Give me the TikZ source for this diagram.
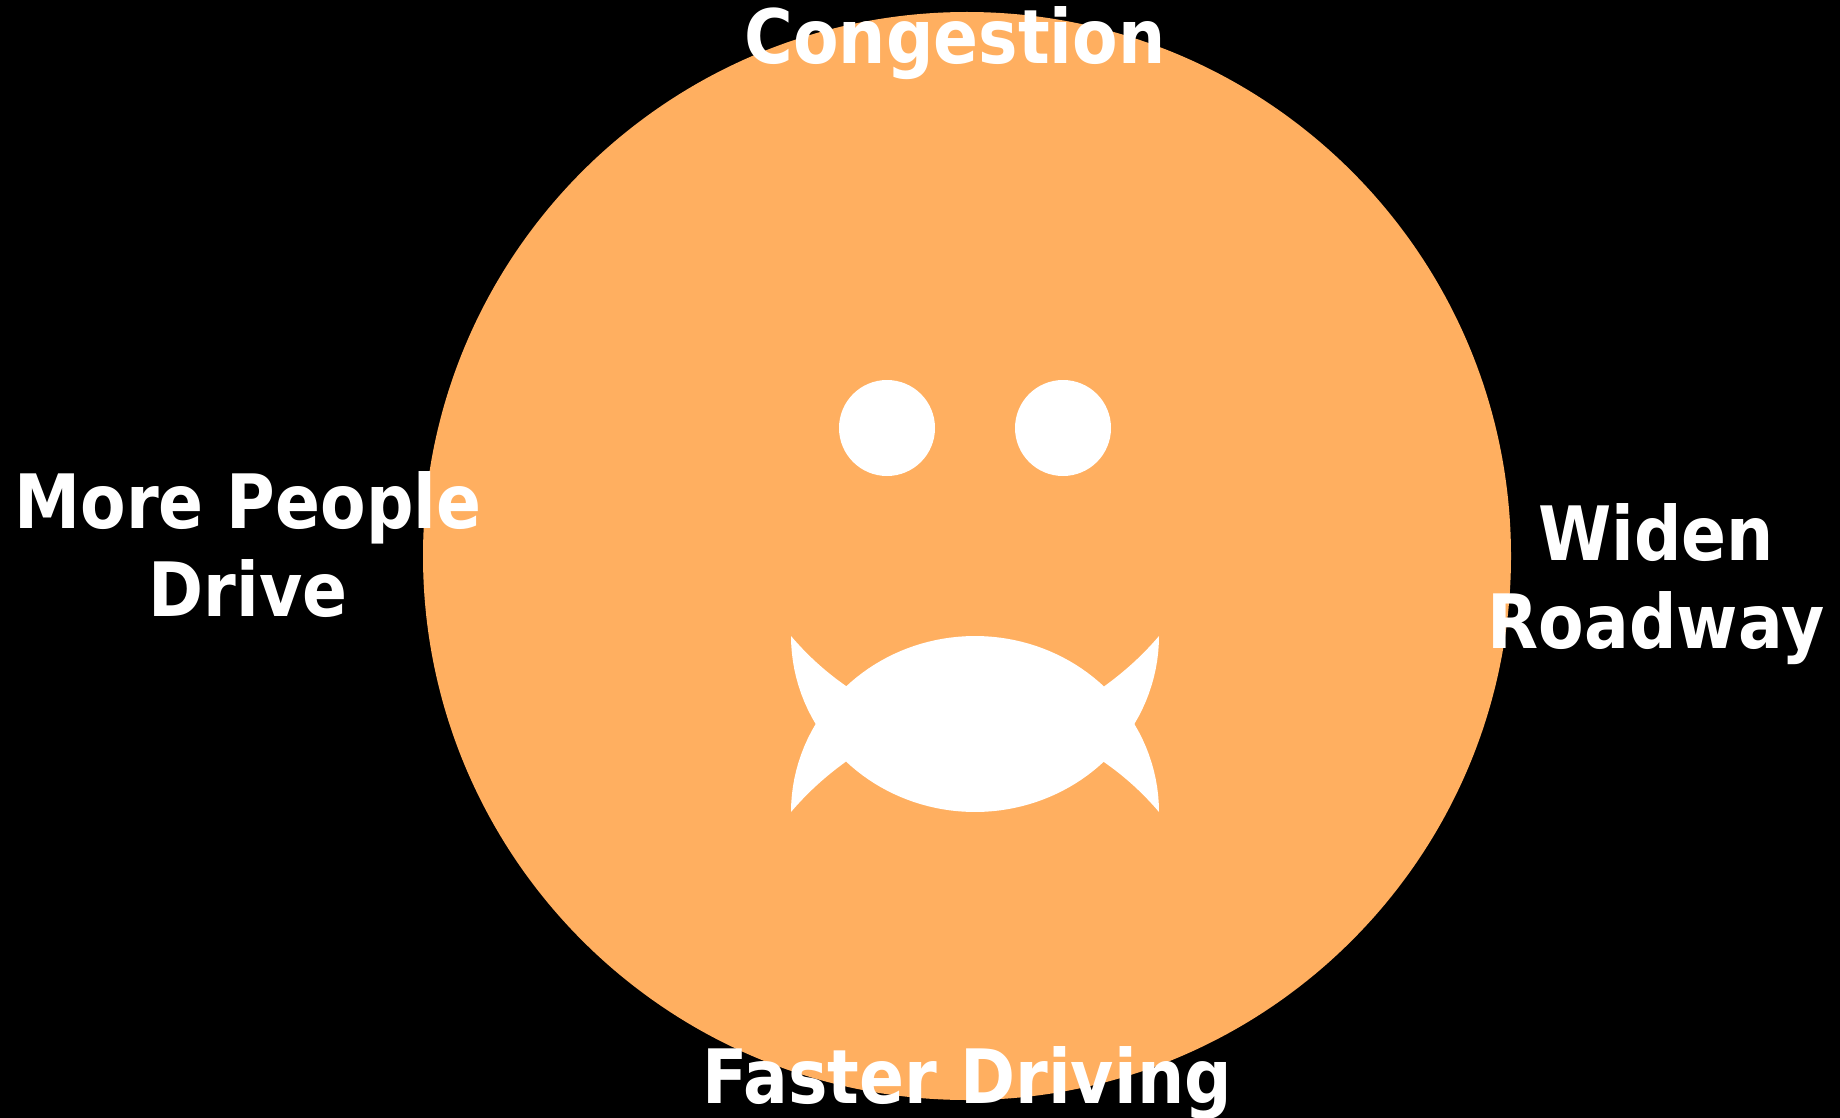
\documentclass[tikz,border=0pt]{standalone}
\usepackage{fontspec}
\setmainfont{DejaVu Sans}[FakeStretch=0.885]
\definecolor{face}{HTML}{FFAF60}
\tikzset{
 lbl/.style={text=white,font=\bfseries\fontsize{75}{88}\selectfont,align=center,inner sep=0pt,anchor=center}
}
\begin{document}
\begin{tikzpicture}[x=1pt,y=-1pt]
\useasboundingbox (0,0) rectangle (1840,1118);
\fill[black] (0,0) rectangle (1840,1118);
\fill[face] (967,556) circle[radius=544];
\fill[white] (887,428) circle[radius=48];
\fill[white] (1063,428) circle[radius=48];
\fill[white] (791,636) .. controls (808,656) and (826,672) .. (846,686)
 -- plot[domain=134.5:45.5,samples=40,variable=\t] ({975+184*cos(\t)},{812-176*sin(\t)})
 .. controls (1124,672) and (1142,656) .. (1159,636)
 -- plot[domain=0:30,samples=12,variable=\t] ({975+184*cos(\t)},{636+176*sin(\t)})
 -- plot[domain=30:0,samples=12,variable=\t] ({975+184*cos(\t)},{812-176*sin(\t)})
 .. controls (1142,792) and (1124,776) .. (1103.9,762)
 -- plot[domain=45.5:134.5,samples=40,variable=\t] ({975+184*cos(\t)},{636+176*sin(\t)})
 .. controls (826,776) and (808,792) .. (791,812)
 -- plot[domain=180:150,samples=12,variable=\t] ({975+184*cos(\t)},{812-176*sin(\t)})
 -- plot[domain=150:180,samples=12,variable=\t] ({975+184*cos(\t)},{636+176*sin(\t)})
 -- cycle;
\node[lbl] (top) at (955,43) {Congestion};
\node[lbl] (left) at (248,545) {More People\\Drive};
\node[lbl] (right) at (1656,584) {Widen\\Roadway};
\node[lbl] (bottom) at (967,1083) {Faster Driving};
\end{tikzpicture}
\end{document}
